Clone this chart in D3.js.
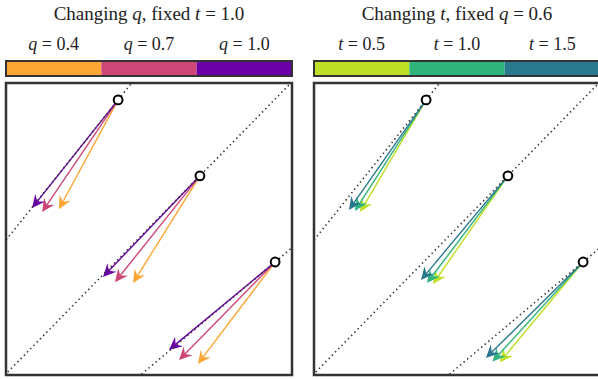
<!DOCTYPE html>
<html>
<head>
<meta charset="utf-8">
<script src="https://cdn.jsdelivr.net/npm/d3@7"></script>
<style>
  body { margin: 0; background: #fff; }
  text { font-family: "Liberation Serif", "DejaVu Serif", serif; fill: #222; }
</style>
</head>
<body>
<script>
// Panel titles and legend entries
var titles = [
  ["Changing ", "q", ", fixed ", "t", " = 1.0"],
  ["Changing ", "t", ", fixed ", "q", " = 0.6"]
];
var legendVar = ["q", "t"];
var legendVals = [["0.4", "0.7", "1.0"], ["0.5", "1.0", "1.5"]];
var legendColors = [
  ["#fca636", "#cc4778", "#6a00a8"],
  ["#bddf26", "#2fb47c", "#29788e"]
];

// Start points (circles), shared by both panels
var startX = [0.392, 0.678, 0.941];
var startY = [0.942, 0.682, 0.387];

// Arrow end points: [panel][group][series], series in legend order
var endX = [
  [[0.185, 0.126, 0.091], [0.444, 0.381, 0.339], [0.671, 0.605, 0.570]],
  [[0.161, 0.143, 0.122], [0.416, 0.395, 0.374], [0.650, 0.624, 0.601]]
];
var endY = [
  [[0.568, 0.558, 0.572], [0.315, 0.318, 0.336], [0.038, 0.051, 0.086]],
  [[0.558, 0.562, 0.565], [0.312, 0.315, 0.325], [0.044, 0.046, 0.058]]
];

// Dotted guide lines through each start point: [x1, y1, x2, y2]
var guides = [
  [-0.05, 0.401, 0.50, 1.074],
  [-0.05, -0.046, 1.05, 1.054],
  [0.40, -0.058, 1.05, 0.477]
];

var W = 598, H = 379;
var panelW = 286, panelH = 292, panelTop = 83;
var panelLeft = [6, 314];

var svg = d3.select("body").append("svg")
    .attr("width", W)
    .attr("height", H);

var xScale = d3.scaleLinear().domain([0, 1]).range([0, panelW]);
var yScale = d3.scaleLinear().domain([0, 1]).range([panelH, 0]);

svg.append("defs").append("clipPath")
    .attr("id", "clip")
  .append("rect")
    .attr("width", panelW)
    .attr("height", panelH);

[0, 1].forEach(function(p) {
  var x0 = panelLeft[p];

  // Title
  var t = svg.append("text")
      .attr("x", x0 + panelW / 2)
      .attr("y", 20)
      .attr("text-anchor", "middle")
      .style("font-size", "19px");
  titles[p].forEach(function(s, i) {
    t.append("tspan")
      .style("font-style", (i === 1 || i === 3) ? "italic" : "normal")
      .text(s);
  });

  // Legend colour bar
  var band = d3.scaleBand().domain(legendVals[p]).range([x0, x0 + panelW]);
  var leg = svg.append("g");
  leg.selectAll("rect.seg")
    .data(legendVals[p])
    .enter().append("rect")
      .attr("class", "seg")
      .attr("x", function(d) { return band(d); })
      .attr("y", 61)
      .attr("width", band.bandwidth())
      .attr("height", 15)
      .attr("fill", function(d, i) { return legendColors[p][i]; });
  leg.append("rect")
      .attr("x", x0)
      .attr("y", 61)
      .attr("width", panelW)
      .attr("height", 15)
      .attr("fill", "none")
      .attr("stroke", "#333")
      .attr("stroke-width", 2);
  leg.selectAll("text")
    .data(legendVals[p])
    .enter().append("text")
      .attr("x", function(d) { return band(d) + band.bandwidth() / 2; })
      .attr("y", 50)
      .attr("text-anchor", "middle")
      .style("font-size", "18px")
      .each(function(d) {
        var el = d3.select(this);
        el.append("tspan").style("font-style", "italic").text(legendVar[p]);
        el.append("tspan").text(" = " + d);
      });

  // Plot area
  var g = svg.append("g")
      .attr("transform", "translate(" + x0 + "," + panelTop + ")");
  var inner = g.append("g").attr("clip-path", "url(#clip)");

  // Arrows; last legend entry drawn on top
  for (var k = 0; k < 3; k++) {
    for (var s = 0; s < 3; s++) {
      var sx = xScale(startX[k]), sy = yScale(startY[k]);
      var ex = xScale(endX[p][k][s]), ey = yScale(endY[p][k][s]);
      var ang = Math.atan2(ey - sy, ex - sx);
      var len = Math.hypot(ex - sx, ey - sy);
      var hl = 13, hw = 6.2;
      var a = inner.append("g")
          .attr("transform", "translate(" + sx + "," + sy + ") rotate(" + (ang * 180 / Math.PI) + ")");
      a.append("line")
          .attr("x1", 0).attr("y1", 0)
          .attr("x2", len - hl * 0.6).attr("y2", 0)
          .attr("stroke", legendColors[p][s])
          .attr("stroke-width", 1.4);
      a.append("path")
          .attr("d", "M" + len + ",0 L" + (len - hl) + "," + (-hw) +
                " L" + (len - hl * 0.65) + ",0 L" + (len - hl) + "," + hw + " Z")
          .attr("fill", legendColors[p][s]);
    }
  }

  // Dotted guide lines
  inner.selectAll("line.guide")
    .data(guides)
    .enter().append("line")
      .attr("class", "guide")
      .attr("x1", function(d) { return xScale(d[0]); })
      .attr("y1", function(d) { return yScale(d[1]); })
      .attr("x2", function(d) { return xScale(d[2]); })
      .attr("y2", function(d) { return yScale(d[3]); })
      .attr("stroke", "#333")
      .attr("stroke-width", 1.6)
      .attr("stroke-dasharray", "1.4,3.2");

  // Start circles
  inner.selectAll("circle")
    .data(startX)
    .enter().append("circle")
      .attr("cx", function(d) { return xScale(d); })
      .attr("cy", function(d, i) { return yScale(startY[i]); })
      .attr("r", 4.4)
      .attr("fill", "#fff")
      .attr("stroke", "#000")
      .attr("stroke-width", 2);

  // Frame
  g.append("rect")
      .attr("width", panelW)
      .attr("height", panelH)
      .attr("fill", "none")
      .attr("stroke", "#333")
      .attr("stroke-width", 2.5);
});
</script>
</body>
</html>
